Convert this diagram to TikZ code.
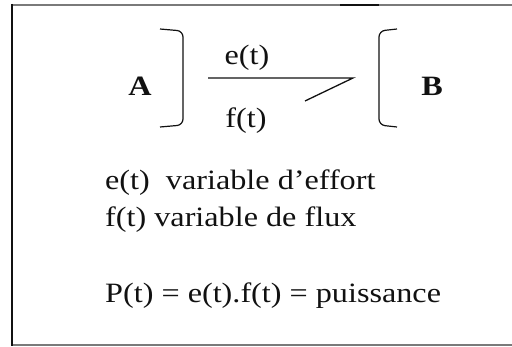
\documentclass[tikz,border=0pt]{standalone}
\usepackage{fontspec}
\setmainfont[FakeStretch=1.15]{Liberation Serif}
\usepackage{xcolor}
\usepackage{tikz}
\definecolor{framegray}{HTML}{7A7A7A}
\definecolor{ink}{HTML}{111111}

\begin{document}
\begin{tikzpicture}[x=1pt,y=-1pt,font=\fontsize{28}{34}\selectfont,ink,
  bracket/.style={line width=1.2pt,rounded corners=6pt},
  textline/.style={anchor=base west,inner sep=0pt}]
  \useasboundingbox (0,0) rectangle (512,347);
  % frame
  \draw[framegray,line width=1.2pt] (12,5) -- (512,5);
  \draw[line width=2.5pt] (340,5) -- (379,5);
  \draw[framegray,line width=1.2pt] (12,345) -- (512,345);
  \draw[line width=2.2pt] (12,4) -- (12,346);
  % the two subsystems
  \node[font=\fontsize{28}{32}\selectfont\bfseries] (A) at (140,86) {A};
  \node[font=\fontsize{28}{32}\selectfont\bfseries] (B) at (432,86) {B};
  \draw[bracket] (160,29) -- (183,31) -- (183,125) -- (160,127);
  \draw[bracket] (397,29) -- (379,31) -- (379,125) -- (397,127);
  % power bond
  \coordinate (bondL) at (208,78);
  \coordinate (bondR) at (353,78);
  \coordinate (barb) at (305,101);
  \draw[line width=1.3pt] (bondL) -- (bondR) -- (barb);
  \node (e) at (247,58) {e(t)};
  \node (f) at (246,121) {f(t)};
  % legend
  \node[textline] (eff) at (105,190) {e(t)\ \ variable d'effort};
  \node[textline] (flux) at (105,227) {f(t) variable de flux};
  \node[textline] (pow) at (105,303) {P(t) = e(t).f(t) = puissance};
\end{tikzpicture}
\end{document}
